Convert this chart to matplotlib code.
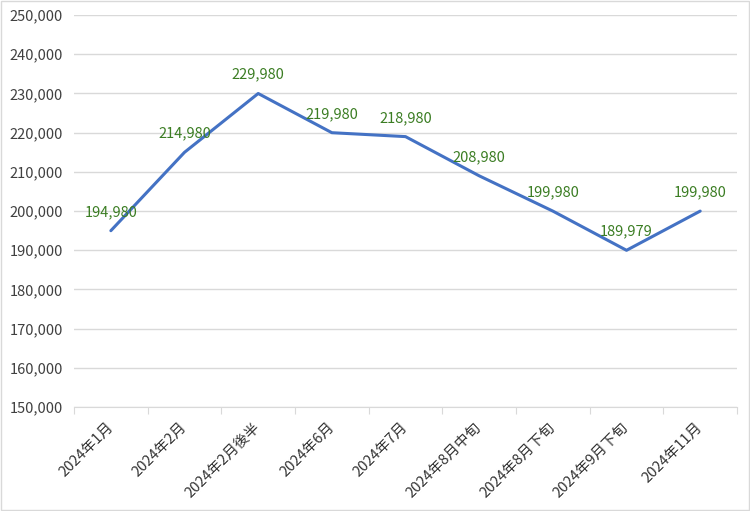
import matplotlib.pyplot as plt
from matplotlib.ticker import FuncFormatter, MultipleLocator

plt.rcParams['font.family'] = ['Noto Sans CJK JP', 'DejaVu Sans']

categorias = ['2024年1月', '2024年2月', '2024年2月後半', '2024年6月', '2024年7月',
              '2024年8月中旬', '2024年8月下旬', '2024年9月下旬', '2024年11月']
valores = [194980, 214980, 229980, 219980, 218980, 208980, 199980, 189979, 199980]

fig = plt.figure(figsize=(7.5, 5.11), dpi=100)
ax = fig.add_axes([0.0987, 0.2035, 0.8840, 0.7671])

x = list(range(len(categorias)))
ax.plot(x, valores, color='#4472C4', linewidth=2.2, solid_capstyle='round', zorder=3)

for xi, v in zip(x, valores):
    ax.annotate(f'{v:,}', (xi, v), xytext=(0, 8.5), textcoords='offset points',
                ha='center', va='bottom', fontsize=10.5, color='#3B7D23', zorder=4)

ax.set_xlim(-0.5, len(categorias) - 0.5)
ax.set_ylim(150000, 250000)
ax.yaxis.set_major_locator(MultipleLocator(10000))
ax.yaxis.set_major_formatter(FuncFormatter(lambda v, p: f'{int(v):,}'))
ax.grid(axis='y', color='#D9D9D9', linewidth=1)
ax.set_axisbelow(True)

ax.set_xticks([i - 0.5 for i in range(len(categorias) + 1)], minor=False)
ax.set_xticklabels([])
ax.set_xticks(x, minor=True)
ax.set_xticklabels(categorias, minor=True, rotation=45, ha='right', va='center',
                   rotation_mode='anchor', fontsize=10.5, color='#333333')
ax.tick_params(axis='x', which='major', length=5, color='#D9D9D9')
ax.tick_params(axis='x', which='minor', length=0, pad=13)
ax.tick_params(axis='y', length=0, labelsize=10.5, labelcolor='#404040', pad=8)

for s in ['top', 'right', 'left']:
    ax.spines[s].set_visible(False)
ax.spines['bottom'].set_color('#D9D9D9')

fig.patches.append(plt.Rectangle((0.001, 0.001), 0.998, 0.998, transform=fig.transFigure,
                                 fill=False, edgecolor='#D9D9D9', linewidth=1))

fig.savefig('out.png', dpi=100)
